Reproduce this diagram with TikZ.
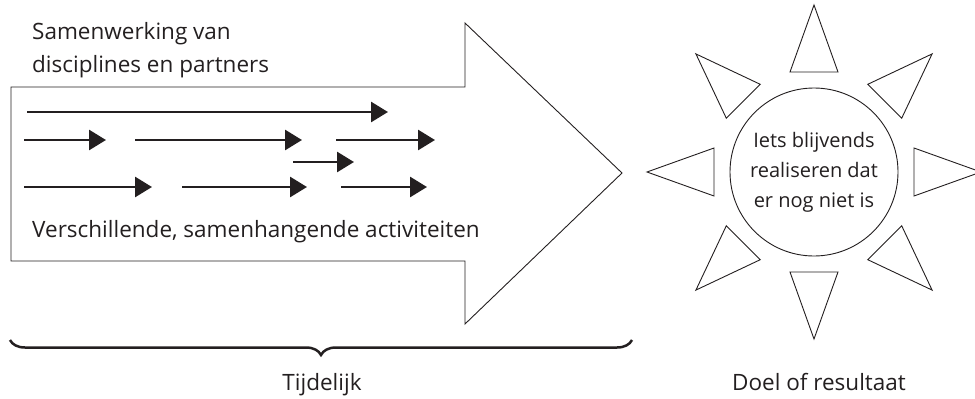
\documentclass[tikz,border=0pt]{standalone}
\usepackage{fontspec}
\setmainfont{Open Sans}
\usetikzlibrary{arrows.meta, calc, decorations.pathreplacing, positioning}
\definecolor{ink}{RGB}{35,31,32}

\begin{document}
\begin{tikzpicture}[
		% one unit = one pixel of the reference, y pointing down
		x=1pt, y=-1pt,
		>={Triangle[length=17pt, width=20pt]},
		flow/.style={->, line width=2.8pt, draw=ink},
		outline/.style={draw=ink, line width=0.9pt, line join=miter},
		lbl/.style={font=\fontsize{22.5}{33}\selectfont, text=ink, inner sep=0pt}
		]
		\clip (0,0) rectangle (975,399);
		
		% --- 1. THE BIG ARROW (the project) ---
		\draw[outline] (11,87) -- (465,87) -- (465,23) -- (622,173) -- (465,324) -- (465,261) -- (11,261) -- cycle;
		
		% Label above the shaft (base = last line)
		\node[lbl, anchor=base west, align=left] (partners) at (32,72) {Samenwerking van\\disciplines en partners};
		
		% Activities: arrows running side by side
		\foreach \xa/\xb/\y in {27/388/112, 24/106/140, 135/302/140, 336/435/140, 293/354/162, 24/152/187, 182/307/187, 341/427/187} {
			\draw[flow] (\xa,\y) -- (\xb,\y);
		}
		
		\node[lbl, anchor=base west] (activities) at (32,237) {Verschillende, samenhangende activiteiten};
		
		% --- 2. THE BRACE (duration) ---
		\draw[ink, line width=2.5pt, decorate, decoration={brace, amplitude=15pt, mirror}] (10,340) -- (632,340);
		\node[lbl, anchor=base] (temp) at (322,390) {Tijdelijk};
		
		% --- 3. THE SUN (result) ---
		\node[outline, circle, minimum size=168pt, inner sep=0pt, align=center, font=\fontsize{20}{30}\selectfont, text=ink] (sun) at (814,172) {Iets blijvends\\realiseren dat\\er nog niet is};
		
		% Rays: eight triangles round the circle
		\foreach \a in {0,45,...,315} {
			\draw[outline] ($(sun.center)+(\a:100)+(\a+90:24)$) -- ($(sun.center)+(\a:167)$) -- ($(sun.center)+(\a:100)+(\a-90:24)$) -- cycle;
		}
		
		\node[lbl, anchor=base] (goal) at (819,390) {Doel of resultaat};
		
	\end{tikzpicture}
\end{document}
